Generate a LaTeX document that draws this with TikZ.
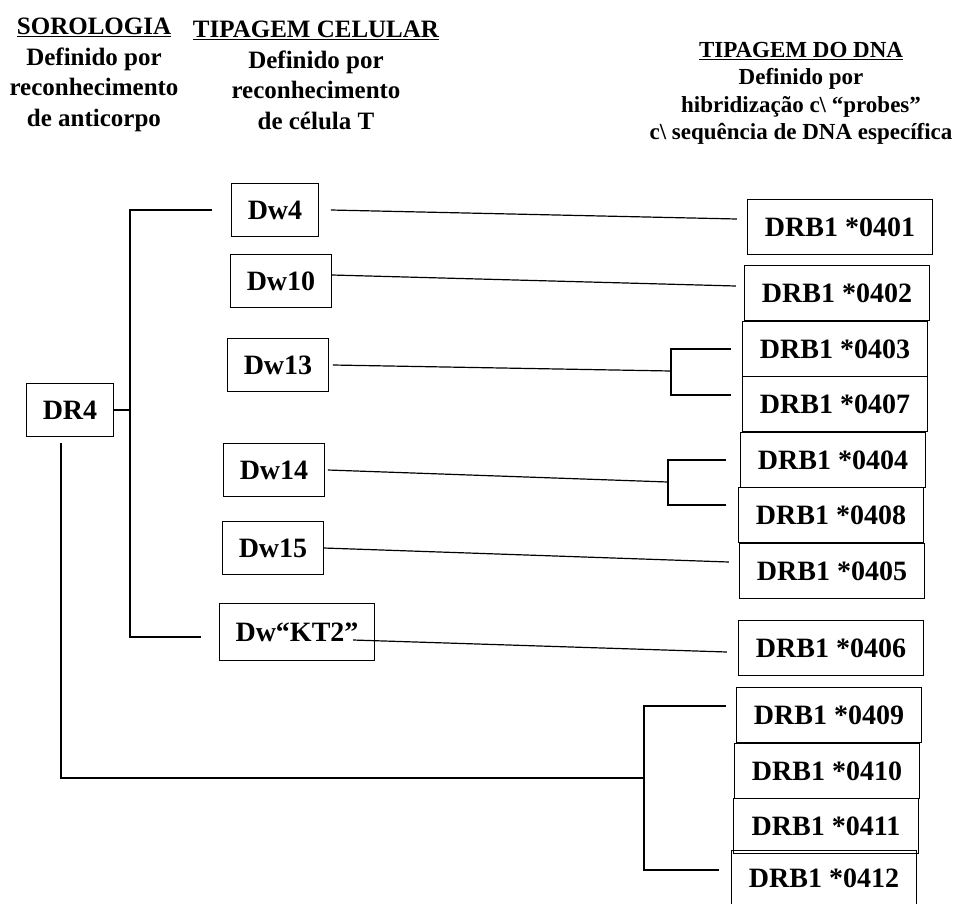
\documentclass[tikz,border=0pt]{standalone}
\usepackage{fontspec}
\setmainfont{Liberation Serif}
\newcommand{\headfont}{\fontsize{25}{30.5}\selectfont\bfseries}
\newcommand{\dnafont}{\fontsize{23}{27.5}\selectfont\bfseries}
\newcommand{\boxfont}{\fontsize{28}{30}\selectfont\bfseries}
\tikzset{
  serotype/.style={draw, line width=1.3pt, font=\boxfont, minimum height=53pt, inner xsep=16pt},
  allele/.style={draw, line width=1.3pt, font=\boxfont, minimum height=55pt, minimum width=185pt, inner xsep=0pt},
  heading/.style={align=center, inner sep=0pt, anchor=north},
  link/.style={line width=1.2pt}
}

\begin{document}
\begin{tikzpicture}[x=1pt,y=-1pt]
\useasboundingbox (0,0) rectangle (977,903);

% column headings
\node[heading, font=\headfont] (sor) at (94,18) {\underline{SOROLOGIA}\\Definido por\\reconhecimento\\de anticorpo};
\node[heading, font=\headfont] (cel) at (316,21) {\underline{TIPAGEM CELULAR}\\Definido por\\reconhecimento\\de célula T};
\node[heading, font=\dnafont] (dna) at (801,42) {\underline{TIPAGEM DO DNA}\\Definido por\\hibridização c\textbackslash{} “probes”\\c\textbackslash{} sequência de DNA específica};

% serology
\node[serotype] (DR4) at (70,410) {DR4};

% cellular typing
\node[serotype] (Dw4) at (275,210) {Dw4};
\node[serotype] (Dw10) at (281,281) {Dw10};
\node[serotype] (Dw13) at (278,365) {Dw13};
\node[serotype] (Dw14) at (274,470) {Dw14};
\node[serotype] (Dw15) at (273,548) {Dw15};
\node[serotype, minimum height=57pt] (DwKT2) at (297,632) {Dw“KT2”};

% DNA typing
\node[allele] (d0401) at (840,227) {DRB1 *0401};
\node[allele] (d0402) at (837,293) {DRB1 *0402};
\node[allele] (d0403) at (835,349) {DRB1 *0403};
\node[allele] (d0407) at (835,404) {DRB1 *0407};
\node[allele] (d0404) at (833,460) {DRB1 *0404};
\node[allele] (d0408) at (831,515) {DRB1 *0408};
\node[allele] (d0405) at (832,571) {DRB1 *0405};
\node[allele] (d0406) at (831,648) {DRB1 *0406};
\node[allele] (d0409) at (829,715) {DRB1 *0409};
\node[allele] (d0410) at (827,771) {DRB1 *0410};
\node[allele] (d0411) at (826,826) {DRB1 *0411};
\node[allele] (d0412) at (824,878) {DRB1 *0412};

% branch points
\coordinate (trunk) at (130,410);
\coordinate (br13) at (671,371);
\coordinate (br14) at (668,482);
\coordinate (brDR) at (644,778);

% DR4 to the Dw types
\draw[link] (DR4.east) -- (trunk);
\draw[link] ([xshift=-19pt]Dw4.west) -| (trunk) |- ([xshift=-18pt,yshift=-5pt]DwKT2.west);

% Dw types to the alleles
\draw[link] ([xshift=12pt]Dw4.east) -- ([xshift=-10pt,yshift=8pt]d0401.west);
\draw[link] ([yshift=6pt]Dw10.east) -- ([xshift=-8pt,yshift=7pt]d0402.west);
\draw[link] ([xshift=4pt]Dw13.east) -- (br13);
\draw[link] ([xshift=-11pt]d0403.west) -| (br13) |- ([xshift=-11pt,yshift=9pt]d0407.west);
\draw[link] ([xshift=3pt]Dw14.east) -- (br14);
\draw[link] ([xshift=-14pt]d0404.west) -| (br14) |- ([xshift=-12pt,yshift=10pt]d0408.west);
\draw[link] (Dw15.east) -- ([xshift=-10pt,yshift=9pt]d0405.west);
\draw[link] ([xshift=-22pt,yshift=-8pt]DwKT2.east) -- ([xshift=-11pt,yshift=-4pt]d0406.west);

% DR4 straight to the remaining alleles
\draw[link] ([xshift=-9pt,yshift=-6pt]DR4.south) |- (brDR);
\draw[link] ([xshift=-10pt,yshift=9pt]d0409.west) -| (brDR) |- ([xshift=-12pt,yshift=8pt]d0412.west);
\end{tikzpicture}
\end{document}
